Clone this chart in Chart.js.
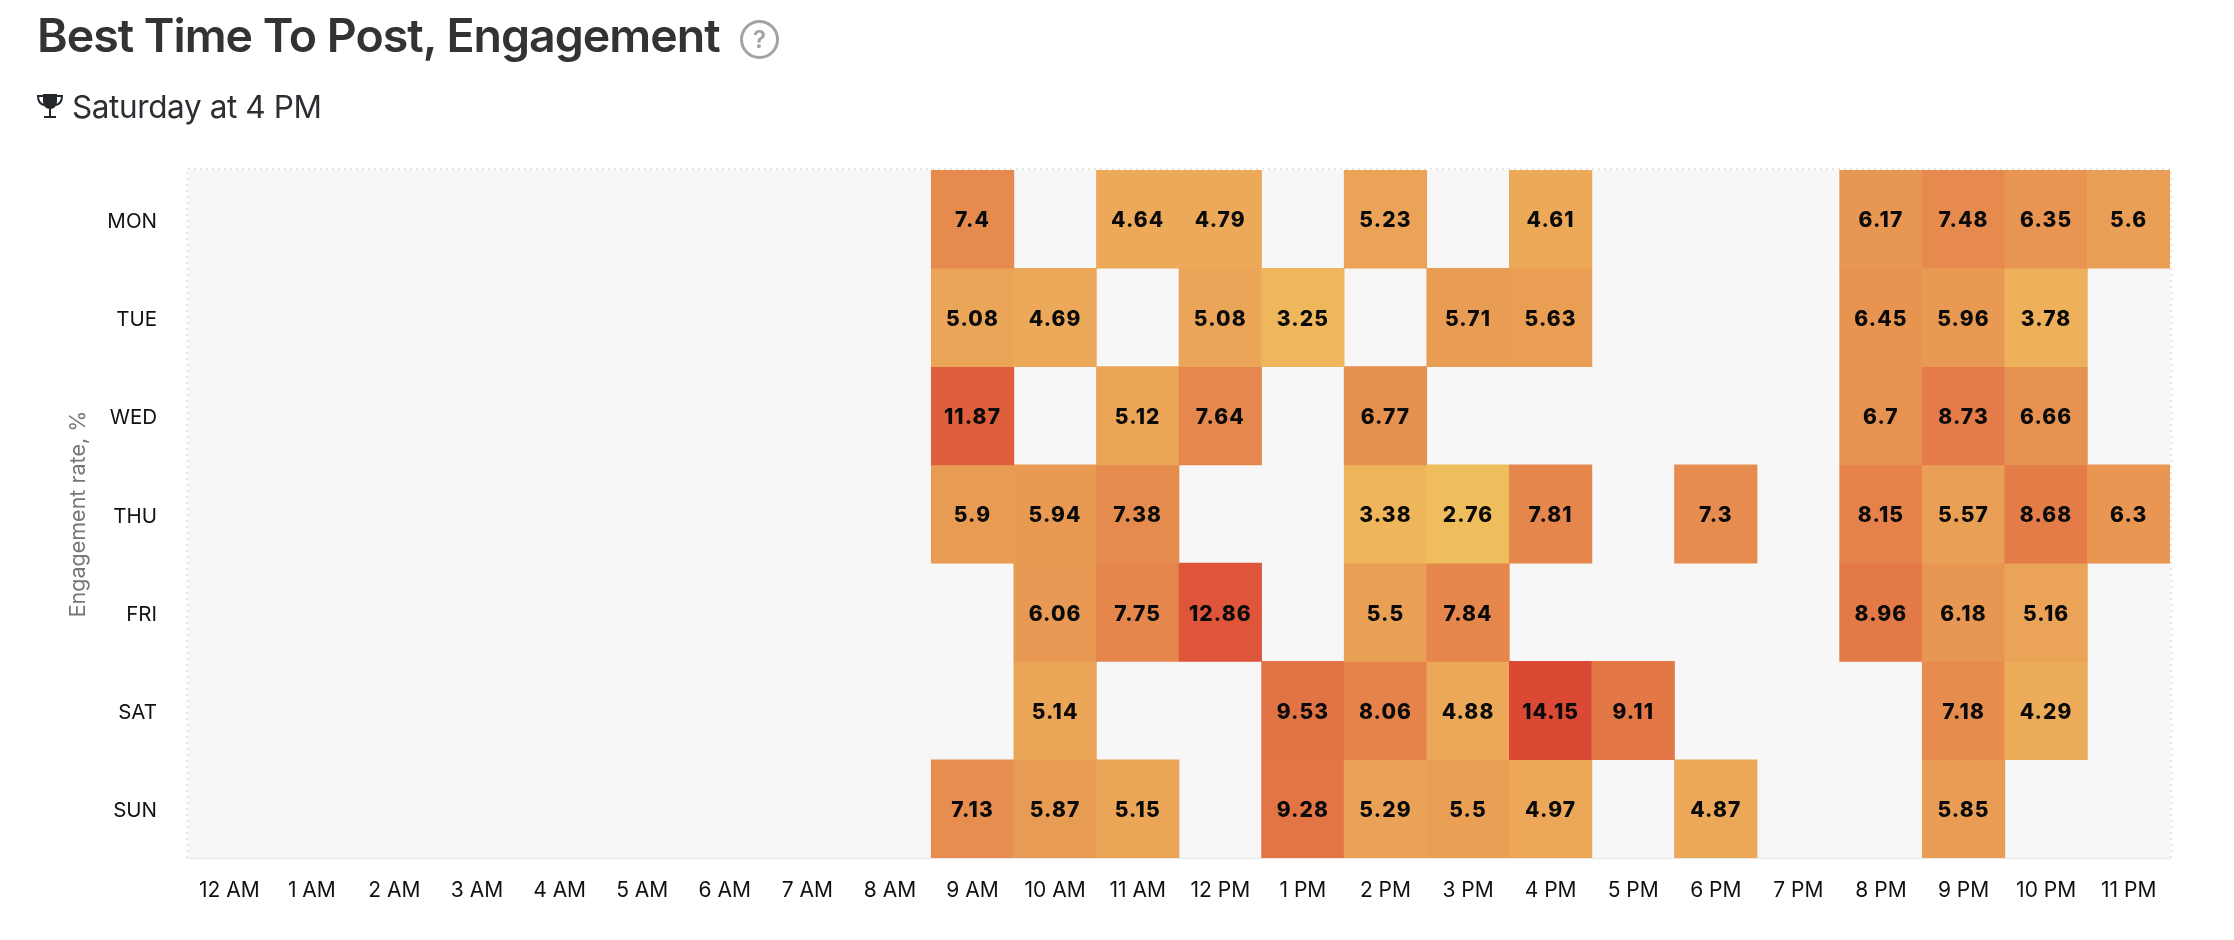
<!DOCTYPE html>
<html>
<head>
<meta charset="utf-8">
<title>Best Time To Post, Engagement</title>
<script src="https://cdn.jsdelivr.net/npm/chart.js@4"></script>
<style>
    html, body { margin: 0; padding: 0; background: #ffffff; width: 2234px; height: 940px; overflow: hidden; font-family: Inter, "Noto Sans", sans-serif; }
    #chart-wrap { position: absolute; left: 0; top: 0; width: 2234px; height: 940px; }
    h1 { position: absolute; left: 37px; top: 9px; margin: 0; font-size: 46.5px; letter-spacing: -1px; line-height: 52px; font-weight: 600; color: #333333; white-space: nowrap; }
    .help { position: absolute; left: 740px; top: 20px; width: 39px; height: 39px; border: 3px solid #a3a3a3; border-radius: 50%; box-sizing: border-box; color: #a3a3a3; font-size: 24px; font-weight: 600; line-height: 33px; text-align: center; }
    .best { position: absolute; left: 72px; top: 87px; font-size: 31.5px; letter-spacing: -0.4px; line-height: 40px; color: #2b2e33; white-space: nowrap; }
    .trophy { position: absolute; left: 37px; top: 94px; width: 26px; height: 24px; }
</style>
</head>
<body>
<div id="chart-wrap"><canvas id="heatmap" width="2234" height="940"></canvas></div>
<h1>Best Time To Post, Engagement</h1>
<div class="help">?</div>
<svg class="trophy" viewBox="0 0 26 24">
    <path d="M6 0h14v7c0 5-3 8-7 8s-7-3-7-8z" fill="#23262b"/>
    <path d="M6 2H1c0 5 2 8 6 9M20 2h5c0 5-2 8-6 9" fill="none" stroke="#23262b" stroke-width="2"/>
    <rect x="12" y="14" width="2" height="8" fill="#23262b"/>
    <rect x="7" y="22" width="12" height="2" fill="#23262b"/>
</svg>
<div class="best">Saturday at 4 PM</div>

<script>
const hours = ['12 AM', '1 AM', '2 AM', '3 AM', '4 AM', '5 AM', '6 AM', '7 AM', '8 AM', '9 AM', '10 AM', '11 AM',
    '12 PM', '1 PM', '2 PM', '3 PM', '4 PM', '5 PM', '6 PM', '7 PM', '8 PM', '9 PM', '10 PM', '11 PM'];
const days = ['MON', 'TUE', 'WED', 'THU', 'FRI', 'SAT', 'SUN'];

const _ = null;
const mon = [_, _, _, _, _, _, _, _, _, 7.4, _, 4.64, 4.79, _, 5.23, _, 4.61, _, _, _, 6.17, 7.48, 6.35, 5.6];
const tue = [_, _, _, _, _, _, _, _, _, 5.08, 4.69, _, 5.08, 3.25, _, 5.71, 5.63, _, _, _, 6.45, 5.96, 3.78, _];
const wed = [_, _, _, _, _, _, _, _, _, 11.87, _, 5.12, 7.64, _, 6.77, _, _, _, _, _, 6.7, 8.73, 6.66, _];
const thu = [_, _, _, _, _, _, _, _, _, 5.9, 5.94, 7.38, _, _, 3.38, 2.76, 7.81, _, 7.3, _, 8.15, 5.57, 8.68, 6.3];
const fri = [_, _, _, _, _, _, _, _, _, _, 6.06, 7.75, 12.86, _, 5.5, 7.84, _, _, _, _, 8.96, 6.18, 5.16, _];
const sat = [_, _, _, _, _, _, _, _, _, _, 5.14, _, _, 9.53, 8.06, 4.88, 14.15, 9.11, _, _, _, 7.18, 4.29, _];
const sun = [_, _, _, _, _, _, _, _, _, 7.13, 5.87, 5.15, _, 9.28, 5.29, 5.5, 4.97, _, 4.87, _, _, 5.85, _, _];
const rows = [mon, tue, wed, thu, fri, sat, sun];

// value -> colour, stops picked by eye from the reference
const colorStops = [
    [2.76, [239, 190, 92]],
    [3.78, [238, 176, 90]],
    [4.88, [236, 168, 89]],
    [5.5, [233, 160, 85]],
    [6.2, [232, 151, 82]],
    [7.84, [229, 134, 76]],
    [9.11, [227, 119, 70]],
    [12.86, [222, 85, 57]],
    [14.15, [219, 72, 52]]
];

function cellColor(value) {
    for (let i = 1; i < colorStops.length; i++) {
        if (value <= colorStops[i][0]) {
            const [v0, c0] = colorStops[i - 1];
            const [v1, c1] = colorStops[i];
            const t = Math.max(0, (value - v0) / (v1 - v0));
            const mix = c0.map((c, k) => Math.round(c + (c1[k] - c) * t));
            return `rgb(${mix.join(',')})`;
        }
    }
    return '#db4834';
}

const plotBack = {
    id: 'plotBack',
    beforeDatasetsDraw(chart) {
        const { ctx, chartArea: a } = chart;
        ctx.save();
        ctx.fillStyle = '#f7f7f7';
        ctx.fillRect(a.left, a.top, a.right - a.left, a.bottom - a.top);
        ctx.strokeStyle = '#e6e6e6';
        ctx.lineWidth = 2;
        ctx.setLineDash([2, 4]);
        ctx.beginPath();
        ctx.moveTo(a.left - 1, a.bottom);
        ctx.lineTo(a.left - 1, a.top - 1);
        ctx.lineTo(a.right + 1, a.top - 1);
        ctx.lineTo(a.right + 1, a.bottom);
        ctx.stroke();
        ctx.restore();
    }
};

const cellLabels = {
    id: 'cellLabels',
    afterDatasetsDraw(chart) {
        const { ctx } = chart;
        ctx.save();
        ctx.fillStyle = '#0a0a0a';
        ctx.font = '800 21px Inter';
        ctx.letterSpacing = '1.1px';
        ctx.textAlign = 'center';
        ctx.textBaseline = 'middle';
        rows.forEach((row, d) => {
            const bars = chart.getDatasetMeta(d).data;
            row.forEach((value, h) => {
                if (value !== null) {
                    const center = bars[h].getCenterPoint();
                    ctx.fillText(String(value), center.x, center.y + 2);
                }
            });
        });
        ctx.restore();
    }
};

new Chart(document.getElementById('heatmap').getContext('2d'), {
    type: 'bar',
    data: {
        labels: hours,
        datasets: rows.map((row, d) => ({
            label: days[d],
            data: row.map(value => (value === null ? null : [d, d + 1])),
            backgroundColor: ctx => cellColor(row[ctx.dataIndex] ?? 0),
            grouped: false,
            barPercentage: 1,
            categoryPercentage: 1,
            borderWidth: 0
        }))
    },
    options: {
        responsive: false,
        animation: false,
        layout: { padding: { top: 170, right: 64, left: 0, bottom: 0 } },
        plugins: { legend: { display: false }, tooltip: { enabled: false } },
        scales: {
            x: {
                grid: { display: false, drawTicks: false },
                border: { color: '#e8e8e8', width: 2 },
                ticks: { color: '#111111', font: { family: 'Inter', size: 21 }, padding: 20, autoSkip: false, maxRotation: 0 },
                afterFit: scale => { scale.height = 82; }
            },
            y: {
                min: 0,
                max: 7,
                reverse: true,
                grid: { display: false, drawTicks: false },
                border: { display: false },
                // labels sit a touch under the row centre in the reference
                afterBuildTicks: scale => { scale.ticks = days.map((day, i) => ({ value: i + 0.525 })); },
                ticks: {
                    color: '#111111',
                    font: { family: 'Inter', size: 20.5 },
                    padding: 31,
                    autoSkip: false,
                    callback: value => days[Math.floor(value)]
                },
                title: {
                    display: true,
                    text: 'Engagement rate, %',
                    color: '#777777',
                    font: { family: 'Inter', size: 21.5 },
                    padding: { top: 66, bottom: 0 }
                },
                afterFit: scale => { scale.width = 188; }
            }
        }
    },
    plugins: [plotBack, cellLabels]
});
</script>
</body>
</html>
